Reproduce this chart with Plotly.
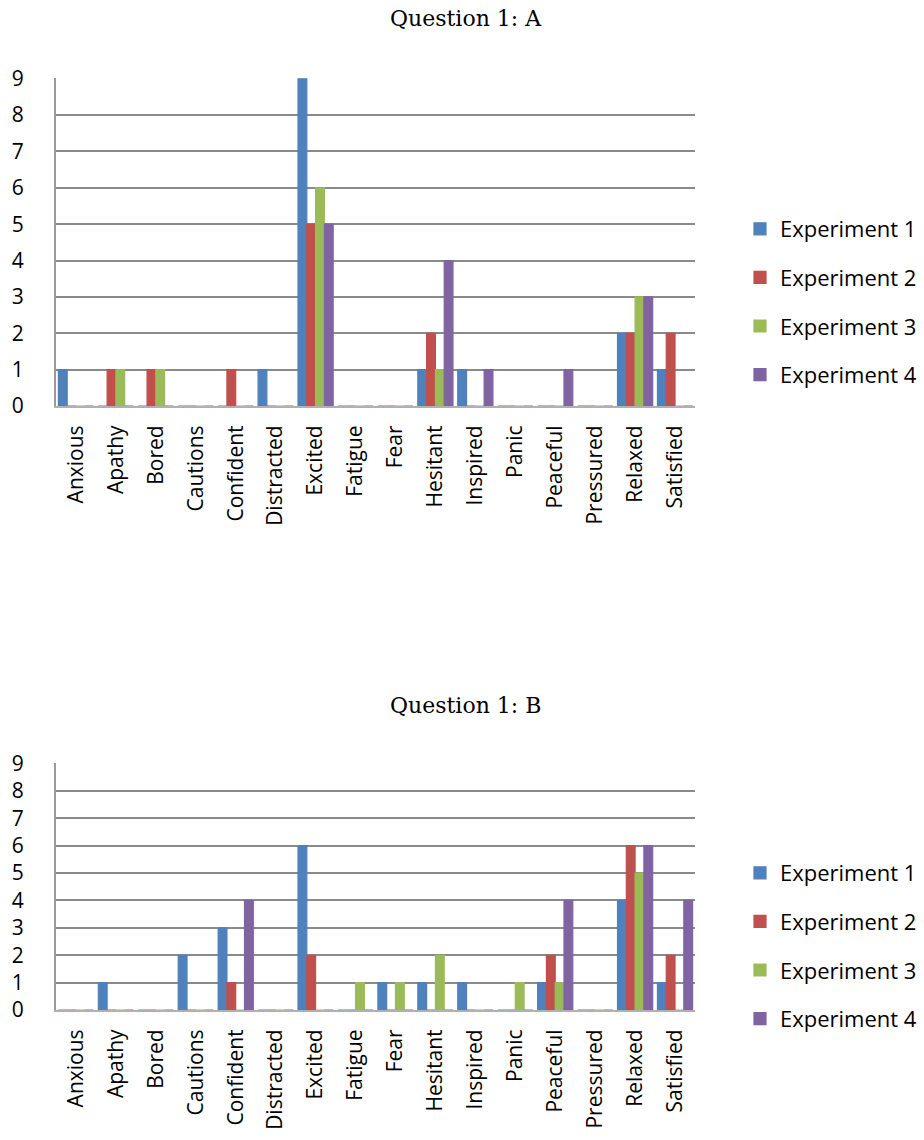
import plotly.graph_objects as go

categories = ["Anxious", "Apathy", "Bored", "Cautions", "Confident", "Distracted",
              "Excited", "Fatigue", "Fear", "Hesitant", "Inspired", "Panic",
              "Peaceful", "Pressured", "Relaxed", "Satisfied"]

series_names = ["Experiment 1", "Experiment 2", "Experiment 3", "Experiment 4"]
colors = ["#4F81BD", "#C0504D", "#9BBB59", "#8064A2"]

# Question 1: A
a_exp1 = [1, 0, 0, 0, 0, 1, 9, 0, 0, 1, 1, 0, 0, 0, 2, 1]
a_exp2 = [0, 1, 1, 0, 1, 0, 5, 0, 0, 2, 0, 0, 0, 0, 2, 2]
a_exp3 = [0, 1, 1, 0, 0, 0, 6, 0, 0, 1, 0, 0, 0, 0, 3, 0]
a_exp4 = [0, 0, 0, 0, 0, 0, 5, 0, 0, 4, 1, 0, 1, 0, 3, 0]

# Question 1: B
b_exp1 = [0, 1, 0, 2, 3, 0, 6, 0, 1, 1, 1, 0, 1, 0, 4, 1]
b_exp2 = [0, 0, 0, 0, 1, 0, 2, 0, 0, 0, 0, 0, 2, 0, 6, 2]
b_exp3 = [0, 0, 0, 0, 0, 0, 0, 1, 1, 2, 0, 1, 1, 0, 5, 0]
b_exp4 = [0, 0, 0, 0, 4, 0, 0, 0, 0, 0, 0, 0, 4, 0, 6, 4]

y_ticks = [0, 1, 2, 3, 4, 5, 6, 7, 8, 9]
titles = ["Question 1: A", "Question 1: B"]

W, H = 924, 1140
fig = go.Figure()

charts = [
    ([a_exp1, a_exp2, a_exp3, a_exp4], "x", "y", "legend"),
    ([b_exp1, b_exp2, b_exp3, b_exp4], "x2", "y2", "legend2"),
]
for values, xa, ya, lg in charts:
    for name, vals, col in zip(series_names, values, colors):
        fig.add_trace(go.Bar(
            x=categories, y=vals, name=name, xaxis=xa, yaxis=ya,
            legend=lg, legendgroup=lg + name,
            marker=dict(color=col, line=dict(color=col, width=1.2)),
        ))

x_dom = [56 / W, 695 / W]
y_dom_a = [1 - 406 / H, 1 - 78 / H]
y_dom_b = [1 - 1010 / H, 1 - 763 / H]

sans = "'Open Sans', 'Noto Sans', sans-serif"
tick_font = dict(family=sans, size=21, color="#000")
xfont = dict(family=sans, size=21, color="#000")
legend_font = dict(family=sans, size=22, color="#000")

common_x = dict(domain=x_dom, tickangle=-90, tickfont=xfont, showgrid=False,
                showline=True, linecolor="#b0b0b0", linewidth=2,
                ticklabelstandoff=9, fixedrange=True)
common_y = dict(range=[0, 9.02], tickvals=y_ticks, tickfont=tick_font,
                showgrid=True, gridcolor="#8a8a8a", gridwidth=2,
                showline=True, linecolor="#9a9a9a", linewidth=2,
                zeroline=False, ticklabelstandoff=26, fixedrange=True)

fig.update_layout(
    width=W, height=H,
    margin=dict(l=0, r=0, t=0, b=0, autoexpand=False),
    paper_bgcolor="white", plot_bgcolor="white",
    barmode="group", bargap=0.12, bargroupgap=0.0,
    xaxis=dict(common_x, anchor="y"),
    yaxis=dict(common_y, domain=y_dom_a, anchor="x"),
    xaxis2=dict(common_x, anchor="y2"),
    yaxis2=dict(common_y, domain=y_dom_b, anchor="x2"),
    legend=dict(x=740 / W, y=1 - 208 / H, xanchor="left", yanchor="top",
                font=legend_font, tracegroupgap=17, itemwidth=30,
                bgcolor="rgba(0,0,0,0)"),
    legend2=dict(x=740 / W, y=1 - 852 / H, xanchor="left", yanchor="top",
                 font=legend_font, tracegroupgap=17, itemwidth=30,
                 bgcolor="rgba(0,0,0,0)"),
    showlegend=True,
)

for text, ypix in zip(titles, [18, 705]):
    fig.add_annotation(
        text=text, xref="paper", yref="paper", x=466 / W, y=1 - ypix / H,
        xanchor="center", yanchor="middle", showarrow=False,
        font=dict(family="'DejaVu Serif', 'Liberation Serif', serif", size=22, color="#000"),
    )

fig.write_html("out.html")
